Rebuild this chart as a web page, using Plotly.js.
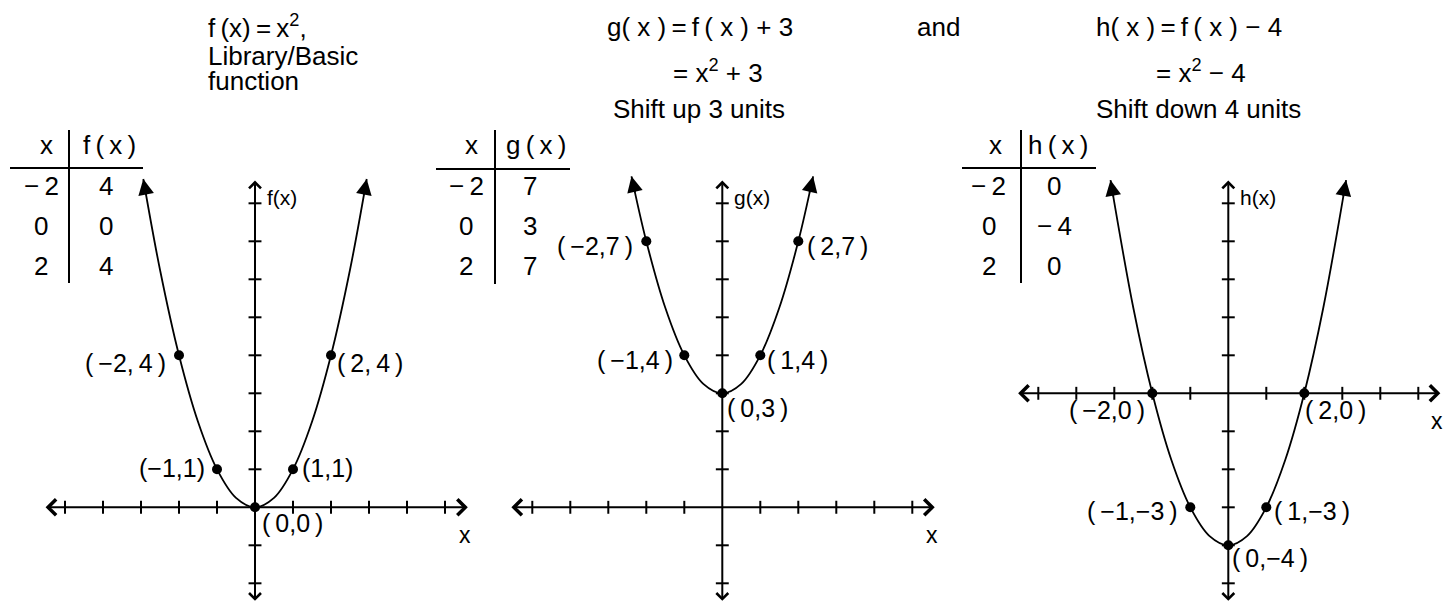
<!DOCTYPE html>
<html><head><meta charset="utf-8">
<script src="https://cdn.plot.ly/plotly-3.0.1.min.js"></script>
<style>html,body{margin:0;padding:0;background:#fff}</style>
</head><body><div id="chart" style="width:1444px;height:605px"></div>
<script>
// ---- data ----
const tableX = [-2, 0, 2];
const fTable = [4, 0, 4];
const gTable = [7, 3, 7];
const hTable = [0, -4, 0];
const pointX = [-2, -1, 0, 1, 2];
const fPoints = [4, 1, 0, 1, 4];
const gPoints = [7, 4, 3, 4, 7];
const hPoints = [0, -3, -4, -3, 0];
const fCurveX = [-2.94, -2.5, -2, -1.5, -1, -0.5, 0, 0.5, 1, 1.5, 2, 2.5, 2.94];
const fCurveY = [8.64, 6.25, 4, 2.25, 1, 0.25, 0, 0.25, 1, 2.25, 4, 6.25, 8.64];
const gCurveX = [-2.39, -2, -1.5, -1, -0.5, 0, 0.5, 1, 1.5, 2, 2.39];
const gCurveY = [8.71, 7, 5.25, 4, 3.25, 3, 3.25, 4, 5.25, 7, 8.71];
const hCurveX = [-3.1, -2.5, -2, -1.5, -1, -0.5, 0, 0.5, 1, 1.5, 2, 2.5, 3.1];
const hCurveY = [5.61, 2.25, 0, -1.75, -3, -3.75, -4, -3.75, -3, -1.75, 0, 2.25, 5.61];
const xTicks = [-5, -4, -3, -2, -1, 1, 2, 3, 4, 5];
const fyTicks = [-2, -1, 1, 2, 3, 4, 5, 6, 7, 8];
const hyTicks = [-5, -4, -3, -2, -1, 1, 2, 3, 4, 5];
const fLabels = ['(\u2009\u22122,\u20094\u2009)', '(\u22121,1)', '(\u20090,0\u2009)', '(1,1)', '(\u20092,\u20094\u2009)'];
const gLabels = ['(\u2009\u22122,7\u2009)', '(\u2009\u22121,4\u2009)', '(\u20090,3\u2009)', '(\u20091,4\u2009)', '(\u20092,7\u2009)'];
const hLabels = ['(\u2009\u22122,0\u2009)', '(\u2009\u22121,\u22123\u2009)', '(\u20090,\u22124\u2009)', '(\u20091,\u22123\u2009)', '(\u20092,0\u2009)'];
const tableHeads = ['f\u2009(\u2009x\u2009)', 'g\u2009(\u2009x\u2009)', 'h\u2009(\u2009x\u2009)'];
const fnNames = ['f(x)', 'g(x)', 'h(x)'];
const titleLines = [
  'f\u2009(x)\u2009=\u2009x<sup>2</sup>,', 'Library/Basic', 'function',
  'g( x )\u2009=\u2009f\u2009( x ) + 3', '= x<sup>2</sup> + 3', 'Shift up 3 units',
  'and',
  'h( x )\u2009=\u2009f\u2009( x ) \u2212 4', '= x<sup>2</sup> \u2212 4', 'Shift down 4 units'
];

// ---- layout helpers ----
const FONT = 'Liberation Sans, Arial, sans-serif';
const W = 1444, H = 605, U = 38;
const px = x => x / W, py = y => 1 - y / H;
const fmt = v => v < 0 ? '\u2212\u2009' + Math.abs(v) : String(v);

const panels = [
  {ox: 255, oy: 507.3, xAx: [-5.55, 5.6], yAx: [-2.5, 8.6], yTicks: fyTicks, cx: fCurveX, cy: fCurveY, py: fPoints, labels: fLabels, tab: fTable,
   lpos: [['right', -11, -8], ['right', -10, 1], ['left', 5, -16], ['left', 7, 1], ['left', 4, -8]],
   tbl: {lx: 41, rx: 106, hlx: 46, hrx: 109, hl: [10, 143, 168], vl: [69, 130, 283]}},
  {ox: 722.3, oy: 507.3, xAx: [-5.59, 5.59], yAx: [-2.5, 8.6], yTicks: fyTicks, cx: gCurveX, cy: gCurveY, py: gPoints, labels: gLabels, tab: gTable,
   lpos: [['right', -11, -5], ['right', -9, -5], ['left', 3, -15], ['left', 5, -5], ['left', 7, -5]],
   tbl: {lx: 466, rx: 530, hlx: 471, hrx: 536, hl: [436, 570, 169], vl: [495, 130, 284]}},
  {ox: 1228.3, oy: 393.3, xAx: [-5.57, 5.58], yAx: [-5.5, 5.6], yTicks: hyTicks, cx: hCurveX, cy: hCurveY, py: hPoints, labels: hLabels, tab: hTable,
   lpos: [['right', -5, -17], ['right', -10, -4], ['left', 2, -13], ['left', 6, -4], ['left', -1, -17]],
   tbl: {lx: 989, rx: 1054, hlx: 995, hrx: 1058, hl: [962, 1096, 168], vl: [1021, 130, 283]}}
];
const rowY = [145, 186, 226, 266];
const titlePos = [[207, 26], [207, 56], [207, 81], [606, 27], [672, 72], [612, 109], [916, 27], [1095, 27], [1155, 72], [1095, 109]];

const traces = [], shapes = [], annotations = [];
const layout = {width: W, height: H, margin: {l: 0, r: 0, t: 0, b: 0}, showlegend: false,
  paper_bgcolor: '#fff', plot_bgcolor: 'rgba(0,0,0,0)', font: {family: FONT, color: '#000', size: 25}};

panels.forEach((p, i) => {
  const k = i === 0 ? '' : String(i + 1);
  const xa = 'x' + k, ya = 'y' + k;
  const d0 = Math.max(0, p.ox - 230), d1 = Math.min(W, p.ox + 230);
  const axCommon = {visible: false, showgrid: false, zeroline: false, fixedrange: true};
  layout['xaxis' + k] = Object.assign({domain: [px(d0), px(d1)], range: [(d0 - p.ox) / U, (d1 - p.ox) / U], anchor: ya}, axCommon);
  layout['yaxis' + k] = Object.assign({domain: [0, 1], range: [-(H - p.oy) / U, p.oy / U], anchor: xa}, axCommon);

  // ticks
  const tx = 0.17;
  xTicks.forEach(t => shapes.push({type: 'line', xref: xa, yref: ya, x0: t, x1: t, y0: -tx, y1: tx, line: {color: '#000', width: 2}}));
  p.yTicks.forEach(t => shapes.push({type: 'line', xref: xa, yref: ya, x0: -tx, x1: tx, y0: t, y1: t, line: {color: '#000', width: 2}}));

  // axes with open arrowheads at both ends
  annotations.push({xref: xa, yref: ya, axref: xa, ayref: ya, x: p.xAx[1], y: 0, ax: p.xAx[0], ay: 0, text: '',
    showarrow: true, arrowside: 'end+start', arrowhead: 4, startarrowhead: 4, arrowsize: 1.55, startarrowsize: 1.55, arrowwidth: 2, arrowcolor: '#000', standoff: 0, startstandoff: 0});
  annotations.push({xref: xa, yref: ya, axref: xa, ayref: ya, x: 0, y: p.yAx[1], ax: 0, ay: p.yAx[0], text: '',
    showarrow: true, arrowside: 'end+start', arrowhead: 4, startarrowhead: 4, arrowsize: 1.15, startarrowsize: 1.15, arrowwidth: 2, arrowcolor: '#000', standoff: 0, startstandoff: 0});

  // curve
  traces.push({type: 'scatter', mode: 'lines', x: p.cx, y: p.cy, xaxis: xa, yaxis: ya,
    line: {color: '#000', width: 1.8, shape: 'spline', smoothing: 1}, hoverinfo: 'skip'});
  // arrowheads at curve ends
  const n = p.cx.length;
  [[n - 1, n - 2], [0, 1]].forEach(([a, b]) => {
    const dxp = (p.cx[a] - p.cx[b]) * U, dyp = (p.cy[a] - p.cy[b]) * U;
    const L = Math.hypot(dxp, dyp);
    annotations.push({xref: xa, yref: ya, x: p.cx[a], y: p.cy[a], axref: 'pixel', ayref: 'pixel',
      ax: -dxp / L * 18, ay: dyp / L * 18, text: '', showarrow: true, arrowhead: 2, arrowsize: 1.75, arrowwidth: 1.8, arrowcolor: '#000', standoff: 0});
  });
  // points
  traces.push({type: 'scatter', mode: 'markers', x: pointX, y: p.py, xaxis: xa, yaxis: ya,
    marker: {color: '#000', size: 10}, hoverinfo: 'skip', cliponaxis: false});
  // point labels
  pointX.forEach((x, j) => {
    const [anc, xs, ys] = p.lpos[j];
    annotations.push({xref: xa, yref: ya, x: x, y: p.py[j], text: p.labels[j], showarrow: false,
      xanchor: anc, yanchor: 'middle', xshift: xs, yshift: ys, font: {size: 25}});
  });
  // axis labels
  annotations.push({xref: xa, yref: ya, x: 0, y: p.yTicks[p.yTicks.length - 1], text: fnNames[i], showarrow: false,
    xanchor: 'left', yanchor: 'middle', xshift: 10, yshift: 6, font: {size: 21}});
  annotations.push({xref: xa, yref: ya, x: p.xAx[1], y: 0, text: 'x', showarrow: false,
    xanchor: 'center', yanchor: 'middle', xshift: -3, yshift: -28, font: {size: 23}});

  // table
  const t = p.tbl;
  shapes.push({type: 'line', xref: 'paper', yref: 'paper', x0: px(t.hl[0]), x1: px(t.hl[1]), y0: py(t.hl[2]), y1: py(t.hl[2]), line: {color: '#000', width: 2}});
  shapes.push({type: 'line', xref: 'paper', yref: 'paper', x0: px(t.vl[0]), x1: px(t.vl[0]), y0: py(t.vl[1]), y1: py(t.vl[2]), line: {color: '#000', width: 2}});
  annotations.push({xref: 'paper', yref: 'paper', x: px(t.hlx), y: py(rowY[0]), text: 'x', showarrow: false, xanchor: 'center', yanchor: 'middle', font: {size: 26}});
  annotations.push({xref: 'paper', yref: 'paper', x: px(t.hrx), y: py(rowY[0]), text: tableHeads[i], showarrow: false, xanchor: 'center', yanchor: 'middle', font: {size: 26}});
  tableX.forEach((x, j) => {
    annotations.push({xref: 'paper', yref: 'paper', x: px(t.lx), y: py(rowY[j + 1]), text: fmt(x), showarrow: false, xanchor: 'center', yanchor: 'middle', font: {size: 26}});
    annotations.push({xref: 'paper', yref: 'paper', x: px(t.rx), y: py(rowY[j + 1]), text: fmt(p.tab[j]), showarrow: false, xanchor: 'center', yanchor: 'middle', font: {size: 26}});
  });
});

// titles
titleLines.forEach((s, i) => {
  annotations.push({xref: 'paper', yref: 'paper', x: px(titlePos[i][0]), y: py(titlePos[i][1]), text: s, showarrow: false,
    xanchor: 'left', yanchor: 'middle', borderpad: 0, font: {size: 26}});
});

layout.shapes = shapes;
layout.annotations = annotations;
Plotly.newPlot('chart', traces, layout, {staticPlot: true, displayModeBar: false});
</script>
</body></html>
